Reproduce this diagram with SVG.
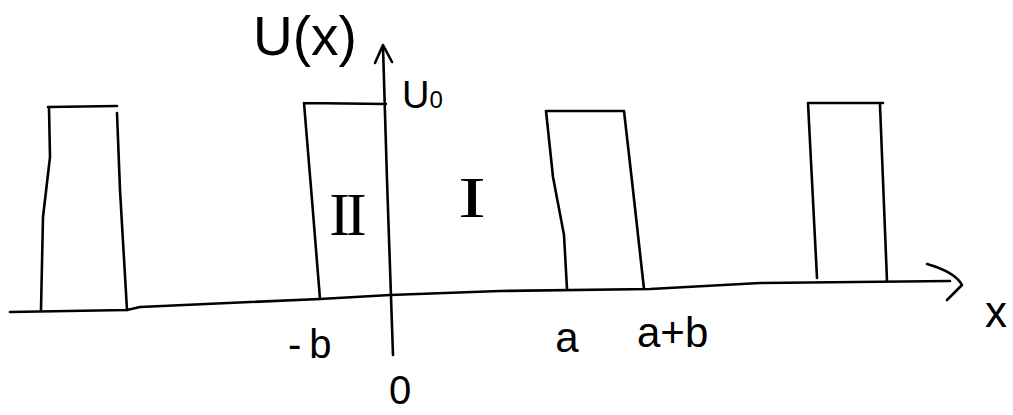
<svg xmlns="http://www.w3.org/2000/svg" width="1013" height="415" viewBox="0 0 1013 415">
<style>
.ln{fill:none;stroke:#000;stroke-width:2.6;stroke-linecap:round;stroke-linejoin:round}
.t{font-family:"Liberation Sans",Arial,sans-serif;fill:#000}
.r{font-family:"Liberation Serif","Times New Roman",serif;fill:#000}
</style>
<rect width="1013" height="415" fill="#fff"/>
<g id="barrier1"><path class="ln" d="M48,107 L117,106 M49,108 L50,157 L43,217 L41,310 M117,113 L120,190 L127,310"/></g>
<g id="barrier2"><path class="ln" d="M304,103 L386,104 M304,103 L312,200 L320,299"/></g>
<g id="barrier3"><path class="ln" d="M546,111 L624,111 M546,111 L553,177 L564,235 L567,289 M624,111 L633,190 L644,289"/></g>
<g id="barrier4"><path class="ln" d="M808,103 L883,103 M808,103 L817,278 M880,105 L887,281"/></g>
<g id="connectors">
<path id="x-axis" class="ln" d="M10,312 L127,310 L140,307 L250,302 L320,299 L390,295 L500,291 L650,289 L760,283 L950,281"/>
<path id="x-arrow" class="ln" d="M927,264 Q955,272 962,285 Q955,292 947,300"/>
<path id="y-axis" class="ln" d="M383,47 L387,180 L393,355"/>
<path id="y-arrow" class="ln" d="M375,63 L383,45 L392,62"/>
</g>
<g id="labels">
<text class="t" x="253" y="55" font-size="55">U(x)</text>
<text class="t" x="402" y="108" font-size="38">U<tspan font-size="24">0</tspan></text>
<text class="r" x="346" y="235" font-size="62" text-anchor="middle" letter-spacing="-4">II</text>
<text class="r" x="0" y="217" font-size="56" text-anchor="middle" transform="translate(472,0) scale(1.5,1)">I</text>
<text class="t" x="288" y="358" font-size="40" letter-spacing="8">-b</text>
<text class="t" x="567" y="352" font-size="42" text-anchor="middle">a</text>
<text class="t" x="637" y="347" font-size="42">a+b</text>
<text class="t" x="400" y="404" font-size="40" text-anchor="middle">0</text>
<text class="t" x="996" y="327" font-size="44" text-anchor="middle">x</text>
</g>
</svg>
